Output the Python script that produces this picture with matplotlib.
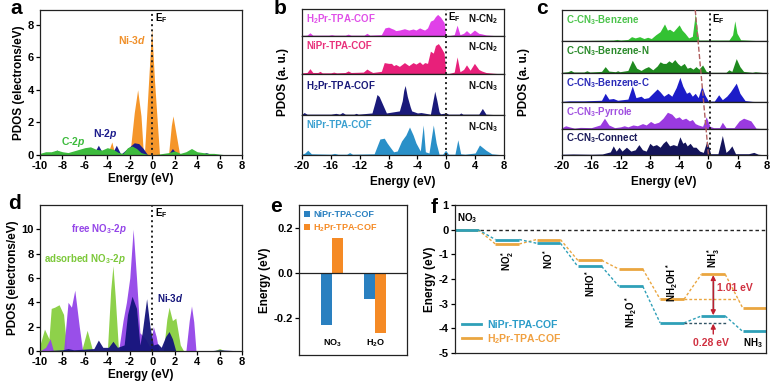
import numpy as np
import matplotlib
matplotlib.use("Agg")
import matplotlib.pyplot as plt
from matplotlib.lines import Line2D

plt.rcParams['font.family'] = ['Liberation Sans', 'DejaVu Sans']
plt.rcParams['font.weight'] = 'bold'
plt.rcParams['axes.labelweight'] = 'bold'
plt.rcParams['axes.unicode_minus'] = False
plt.rcParams['mathtext.fontset'] = 'custom'
plt.rcParams['mathtext.rm'] = 'Liberation Sans:bold'
plt.rcParams['mathtext.it'] = 'Liberation Sans:italic:bold'
plt.rcParams['mathtext.bf'] = 'Liberation Sans:bold'
plt.rcParams['mathtext.default'] = 'rm'

W, H = 779, 389

# ---- panel a: PDOS of NiPr-TPA-COF ----
a_ni3d_x = [-10, -4.0, -3.6, -3.3, -2.0, -1.6, -1.3, -1.0, -0.8, -0.7, -0.3, -0.05,
            0.2, 0.65, 1.45, 1.7, 1.85, 2.05, 2.45, 8]
a_ni3d_y = [0, 0, 0.8, 0, 0, 2.6, 4.0, 2.4, 0.2, 0, 4.8, 7.8, 4.6, 0, 0, 1.8, 2.4, 1.6,
            0, 0]
a_n2p_x = [-10, -9, -8.5, -8, -7, -5.2, -4.8, -4.4, -3.6, -3.2, -2.8, -2.2, -1.6, -1.2,
           -0.8, -0.4, 1.4, 1.8, 2.2, 4.4, 4.8, 5.2, 8]
a_n2p_y = [0.05, 0.1, 0.3, 0.1, 0.05, 0.1, 0.6, 0.1, 0.05, 0.6, 0.05, 0.4, 0.75, 0.7,
           0.4, 0, 0, 0.4, 0.05, 0.05, 0.15, 0.05, 0]
a_c2p_x = [-10, -9.5, -9, -8.5, -8, -7.5, -7, -6.5, -6, -5.5, -5, -4.5, -4, -3.5, -3,
           -2.6, -2.2, -1.8, -1.4, -1, -0.5, 0, 0.5, 1, 1.5, 2, 2.5, 3, 3.5, 4, 4.5,
           5, 5.5, 6, 6.5, 7, 8]
a_c2p_y = [0.1, 0.2, 0.2, 0.3, 0.2, 0.15, 0.25, 0.35, 0.45, 0.5, 0.35, 0.3, 0.45, 0.35,
           0.15, 0.1, 0.45, 0.55, 0.4, 0.15, 0.05, 0, 0.05, 0.1, 0.15, 0.25, 0.1, 0.2,
           0.4, 0.2, 0.15, 0.1, 0.1, 0.05, 0.02, 0, 0]

# ---- panel b: N-CN2 / N-CN3 PDOS (a.u.) ----
b_names = ['H$_2$Pr-TPA-COF', 'NiPr-TPA-COF', 'H$_2$Pr-TPA-COF', 'NiPr-TPA-COF']
b_sites = ['N-CN$_2$', 'N-CN$_2$', 'N-CN$_3$', 'N-CN$_3$']
b1_x = [-20, -19.3, -18.9, -18.5, -16.3, -15.9, -15.5, -14, -13.6, -13.2, -11.4, -11,
        -10.6, -9, -8.5, -8.0, -7.6, -7.3, -7.0, -6.5, -5.8, -5.2, -4.6, -4.2, -3.7,
        -3.3, -3.0, -2.6, -2.2, -1.8, -1.5, -1.2, -0.8, -0.3, -0.05, 0.1, 1.1, 1.5,
        1.9, 2.4, 2.8, 3.3, 3.9, 4.5, 4.9, 5.5, 6.5, 8]
b1_y = [0.02, 0.03, 0.12, 0.03, 0.03, 0.05, 0.03, 0.03, 0.07, 0.03, 0.03, 0.1, 0.03,
        0.05, 0.3, 0.33, 0.28, 0.25, 0.2, 0.22, 0.27, 0.22, 0.26, 0.22, 0.3, 0.25,
        0.22, 0.3, 0.55, 0.6, 0.72, 0.8, 0.7, 0.5, 0.0, 0.0, 0.05, 0.4, 0.05, 0.1,
        0.2, 0.08, 0.22, 0.1, 0.08, 0.04, 0.02, 0.0]
b2_x = [-20, -19.3, -18.9, -18.5, -17.8, -17.5, -17.2, -16, -15.6, -15.2, -14, -13.6,
        -13.2, -11.5, -11.0, -10.6, -10.2, -9, -8.6, -8.0, -7.6, -7.3, -7.0, -6.5,
        -5.8, -5.2, -4.6, -4.2, -3.7, -3.3, -3.0, -2.6, -2.2, -1.8, -1.5, -1.1, -0.8,
        -0.3, -0.05, 0.1, 1.1, 1.5, 1.9, 2.4, 2.8, 3.3, 3.9, 4.5, 4.9, 5.5, 6.5, 8]
b2_y = [0.03, 0.04, 0.14, 0.04, 0.04, 0.07, 0.03, 0.03, 0.05, 0.03, 0.04, 0.08, 0.04,
        0.05, 0.13, 0.08, 0.04, 0.07, 0.3, 0.28, 0.28, 0.22, 0.25, 0.2, 0.3, 0.22,
        0.3, 0.26, 0.32, 0.25, 0.3, 0.28, 0.6, 0.55, 0.75, 0.8, 0.72, 0.55, 0.0, 0.0,
        0.05, 0.45, 0.06, 0.12, 0.24, 0.1, 0.28, 0.12, 0.08, 0.04, 0.02, 0.0]
b3_x = [-20, -19.7, -19.3, -16, -15.3, -14.8, -14.4, -14, -12.8, -12.5, -12.2, -10.3,
        -9.9, -9.6, -9.3, -8.8, -8.3, -6.5, -6.1, -5.9, -5.7, -5.4, -5.0, -4.8, -4.0,
        -3.5, -2.2, -1.9, -1.6, -1.3, -1.0, -0.8, 0, 0.3, 1.8, 2.0, 2.3, 4.5, 5.0,
        5.5, 8]
b3_y = [0.02, 0.06, 0.02, 0.02, 0.04, 0.02, 0.06, 0.02, 0.02, 0.04, 0.02, 0.05, 0.3,
        0.5, 0.45, 0.25, 0.05, 0.1, 0.35, 0.6, 0.72, 0.45, 0.2, 0.1, 0.05, 0.06, 0.02,
        0.3, 0.58, 0.35, 0.08, 0.03, 0.05, 0.02, 0.02, 0.05, 0.02, 0.02, 0.16, 0.02, 0]
b4_x = [-20, -19.6, -19.2, -18.7, -16, -15.5, -15, -13.8, -13.4, -13, -10, -9.2, -8.6,
        -8.2, -7.8, -7.3, -6.8, -6.2, -5.6, -5.1, -4.6, -4.2, -3.6, -3.2, -2.9, -2.4,
        -1.8, -1.4, -1.0, -0.5, -0.1, 0.3, 1.2, 1.6, 2.0, 2.6, 4.0, 4.6, 5.5, 6.3, 8]
b4_y = [0.02, 0.05, 0.12, 0.03, 0.02, 0.04, 0.02, 0.02, 0.06, 0.02, 0.03, 0.4, 0.42,
        0.3, 0.2, 0.08, 0.1, 0.35, 0.5, 0.7, 0.5, 0.3, 0.1, 0.75, 0.08, 0.05, 0.75,
        0.3, 0.02, 0.02, 0.12, 0.02, 0.02, 0.38, 0.03, 0.02, 0.05, 0.25, 0.12, 0.03, 0]

# ---- panel c: C-CN3 PDOS (a.u.) ----
c_names = ['C-CN$_3$-Benzene', 'C-CN$_3$-Benzene-N', 'C-CN$_3$-Benzene-C',
           'C-CN$_3$-Pyrrole', 'C-CN$_3$-Connect']
c1_x = [-20, -16, -13, -12.5, -12, -11, -10.5, -10, -9.4, -8.8, -8.3, -7.8, -7.2, -6.6,
        -6.0, -5.6, -5.3, -4.8, -4.0, -3.6, -3.2, -2.7, -2.2, -1.8, -1.5, -1.3, 0,
        2.8, 3.3, 3.6, 3.9, 4.4, 6, 8]
c1_y = [0, 0.02, 0.03, 0.05, 0.03, 0.05, 0.14, 0.1, 0.14, 0.08, 0.12, 0.08, 0.2, 0.3,
        0.55, 0.35, 0.38, 0.3, 0.52, 0.35, 0.25, 0.1, 0.15, 0.88, 0.3, 0.03, 0.03,
        0.03, 0.2, 0.65, 0.25, 0.04, 0.02, 0]
c2_x = [-20, -19.2, -18.8, -18.4, -17, -16.6, -16.2, -14.6, -14.1, -13.6, -12.7, -12.4,
        -12.1, -11, -10.4, -9.8, -9.2, -8.7, -8.2, -7.6, -7.0, -6.6, -6.2, -5.8, -5.4,
        -5.0, -4.6, -4.2, -3.8, -3.3, -2.9, -2.5, -2.1, -1.7, -1.3, -0.8, -0.3, 0.2,
        2.4, 2.8, 3.2, 3.8, 4.3, 4.8, 6.0, 6.4, 8]
c2_y = [0.02, 0.04, 0.08, 0.03, 0.03, 0.07, 0.03, 0.05, 0.2, 0.06, 0.04, 0.07, 0.04,
        0.08, 0.4, 0.15, 0.08, 0.15, 0.2, 0.1, 0.22, 0.35, 0.3, 0.3, 0.38, 0.32, 0.42,
        0.3, 0.22, 0.3, 0.15, 0.18, 0.12, 0.2, 0.12, 0.25, 0.05, 0.02, 0.02, 0.1,
        0.05, 0.45, 0.2, 0.05, 0.02, 0.04, 0]
c3_x = [-20, -19, -17, -14.6, -14.1, -13.6, -13, -12.4, -11, -10.4, -9.9, -9.2, -8.8,
        -8.2, -7.6, -7.0, -6.6, -6.1, -5.5, -5.0, -4.4, -3.9, -3.5, -3.0, -2.6, -2.2,
        -1.8, -1.4, -0.9, -0.5, 0, 0.8, 1.4, 1.9, 2.5, 3.0, 3.8, 4.3, 5.0, 6, 8]
c3_y = [0.02, 0.04, 0.04, 0.06, 0.3, 0.1, 0.12, 0.06, 0.1, 0.55, 0.15, 0.2, 0.12, 0.15,
        0.3, 0.45, 0.35, 0.2, 0.3, 0.2, 0.5, 0.85, 0.55, 0.3, 0.35, 0.2, 0.3, 0.15,
        0.55, 0.25, 0.03, 0.03, 0.25, 0.08, 0.2, 0.35, 0.65, 0.3, 0.05, 0.02, 0]
c4_x = [-20, -19.5, -19, -18.3, -17.5, -16, -14.8, -14.2, -13.6, -12.8, -12, -11.5, -11,
        -10.3, -9.7, -9.0, -8.5, -7.9, -7.4, -6.8, -6.2, -5.6, -5.0, -4.5, -4.0, -3.6,
        -3.1, -2.6, -2.2, -1.8, -1.4, -0.8, -0.3, 0.2, 0.7, 1.5, 1.9, 2.4, 3.5, 4.2,
        4.8, 5.3, 5.8, 6.5, 8]
c4_y = [0.05, 0.12, 0.08, 0.03, 0.06, 0.05, 0.15, 0.4, 0.15, 0.05, 0.08, 0.12, 0.08,
        0.15, 0.12, 0.2, 0.15, 0.28, 0.2, 0.25, 0.4, 0.62, 0.55, 0.4, 0.45, 0.35, 0.4,
        0.3, 0.35, 0.2, 0.15, 0.1, 0.45, 0.1, 0.05, 0.05, 0.25, 0.05, 0.05, 0.3, 0.4,
        0.35, 0.3, 0.03, 0]
c5_x = [-20, -18.5, -16, -14.5, -13.4, -13, -12.6, -12.2, -11.8, -11.2, -10.6, -10,
        -9.5, -9.0, -8.5, -8.0, -7.6, -7.1, -6.6, -6.2, -5.8, -5.3, -4.8, -4.3, -3.9,
        -3.5, -3.2, -2.9, -2.5, -2.1, -1.7, -1.2, -0.7, -0.2, 0.3, 1.3, 1.9, 2.4, 2.8,
        3.2, 3.7, 4.5, 5.5, 6.2, 6.8, 8]
c5_y = [0.03, 0.04, 0.03, 0.04, 0.12, 0.35, 0.15, 0.3, 0.15, 0.3, 0.15, 0.2, 0.4, 0.2,
        0.15, 0.45, 0.35, 0.4, 0.3, 0.45, 0.55, 0.35, 0.4, 0.35, 0.7, 0.45, 0.5, 0.35,
        0.45, 0.3, 0.3, 0.15, 0.1, 0.55, 0.05, 0.05, 0.75, 0.1, 0.2, 0.35, 0.05, 0.05,
        0.05, 0.1, 0.03, 0]

# ---- panel d: NO3 adsorption PDOS ----
d_ads_x = [-10, -9.6, -9.2, -9.0, -8.7, -8.3, -7.9, -7.6, -6.3, -5.8, -5.3, -4.0, -3.7,
           -3.5, -3.3, -3.0, -2.6, -2.2, -1.6, 1.0, 1.3, 1.5, 1.8, 2.1, 2.5, 2.8, 5.5,
           6.0, 6.5, 8]
d_ads_y = [0.5, 1.8, 1.0, 3.5, 3.6, 3.8, 3.0, 0, 0, 1.7, 0, 0, 5.0, 7.0, 4.5, 0, 0.3,
           0.5, 0, 0, 2.6, 3.6, 2.5, 2.7, 0.5, 0, 0, 0.2, 0, 0]
d_free_x = [-10, -9.5, -9.1, -8.8, -7.9, -7.5, -7.2, -6.9, -6.5, -6.2, -3.0, -2.6, -2.3,
            -2.0, -1.7, -1.4, -1.1, -0.6, -0.2, 0.1, 0.35, 0.6, 3.0, 3.3, 3.5, 3.7,
            3.9, 8]
d_free_y = [0, 0.3, 1.0, 0, 0, 4.0, 3.6, 5.0, 2.0, 0, 0, 2.5, 4.0, 6.0, 10.0, 6.0, 1.5,
            1.0, 0.3, 2.0, 1.2, 0, 0, 2.5, 3.7, 2.4, 0, 0]
d_ni_x = [-10, -8, -7.5, -7, -5.2, -4.8, -4.4, -3.9, -3.5, -3.1, -2.5, -2.2, -1.8, -1.4,
          -1.1, -0.9, -0.5, -0.2, 0.1, 0.5, 0.8, 1.2, 1.5, 1.8, 2.1, 5, 6, 8]
d_ni_y = [0, 0.1, 0.2, 0.1, 0.2, 0.9, 0.3, 0.3, 0.8, 0.3, 0.5, 3.0, 4.5, 3.5, 0.5, 1.5,
          4.3, 2.0, 0.5, 0.6, 0.3, 1.2, 1.6, 1.0, 0, 0, 0.1, 0]

# ---- panel e: adsorption energy ----
e_species = ['NO$_3$', 'H$_2$O']
e_ni = [-0.23, -0.115]
e_h2 = [0.155, -0.268]

# ---- panel f: free energy diagram ----
f_steps = ['NO$_3$', 'NO$_2^*$', 'NO$^*$', 'NHO$^*$', 'NH$_2$O$^*$', 'NH$_2$OH$^*$',
           'NH$_3^*$', 'NH$_3$']
f_ni = [0, -0.40, -0.55, -1.49, -2.30, -3.78, -3.50, -4.12]
f_h2 = [0, -0.58, -0.40, -1.24, -1.60, -2.82, -1.81, -3.16]


fig = plt.figure(figsize=(W / 100, H / 100), dpi=100)


def px_axes(l, t, r, b):
    return fig.add_axes([l / W, 1 - b / H, (r - l) / W, (b - t) / H])


def style(ax, lw=0.9):
    for s in ax.spines.values():
        s.set_linewidth(lw)
        s.set_color('#222222')
    ax.tick_params(direction='out', length=3, width=0.9, labelsize=8, pad=1.5)


LAB = 8.5

# panel a
ax = px_axes(40, 10, 242, 155)
ax.fill_between(a_ni3d_x, a_ni3d_y, color='#f5962a', lw=0)
ax.fill_between(a_n2p_x, a_n2p_y, color='#1c1c8c', lw=0)
ax.fill_between(a_c2p_x, a_c2p_y, color='#3dbb3d', lw=0)
ax.axvline(0, color='#222222', ls=':', lw=1.4)
ax.set_xlim(-10, 8)
ax.set_ylim(0, 8.9)
ax.set_xticks(range(-10, 9, 2))
ax.set_yticks(range(0, 9, 2))
style(ax)
ax.set_xlabel('Energy (eV)', fontsize=LAB, labelpad=1)
ax.set_ylabel('PDOS (electrons/eV)', fontsize=LAB, labelpad=2)
ax.text(0.25, 8.2, 'E$_F$', fontsize=7)
ax.text(-0.5, 6.8, r'Ni-3$\mathit{d}$', color='#f0902a', fontsize=7.5, ha='right')
ax.text(-4.2, 1.1, r'N-2$\mathit{p}$', color='#1c1c8c', fontsize=7.5, ha='center')
ax.text(-7.0, 0.6, r'C-2$\mathit{p}$', color='#3dbb3d', fontsize=7.5, ha='center')
fig.text(10 / W, 1 - 14 / H, 'a', fontsize=15, fontweight='bold')

# panel b
b_bounds = [9, 36, 74, 115, 155]
b_data = [(b1_x, b1_y), (b2_x, b2_y), (b3_x, b3_y), (b4_x, b4_y)]
b_colors = ['#e040e8', '#e8207a', '#1a1a7a', '#2a90c8']
b_text = ['#e050e8', '#e8307a', '#1a1a7a', '#3aa0d0']
for i in range(4):
    ax = px_axes(302, b_bounds[i], 504, b_bounds[i + 1])
    xs, ys = b_data[i]
    ax.fill_between(xs, ys, color=b_colors[i], lw=0)
    ax.axvline(0, color='#222222', ls=':', lw=1.4)
    ax.set_xlim(-20, 8)
    ax.set_ylim(0, 1)
    ax.set_yticks([])
    style(ax)
    if i < 3:
        ax.set_xticks([])
    else:
        ax.set_xticks(range(-20, 9, 4))
    ax.text(0.02, 0.88, b_names[i], transform=ax.transAxes, color=b_text[i],
            fontsize=7, va='top')
    ax.text(0.97, 0.88, b_sites[i], transform=ax.transAxes, color='#111111',
            fontsize=7, va='top', ha='right')
    if i == 0:
        ax.text(0.3, 0.95, 'E$_F$', fontsize=7, va='top')
fig.text(403 / W, 1 - 182 / H, 'Energy (eV)', fontsize=LAB, ha='center', va='center')
fig.text(283 / W, 1 - 82 / H, 'PDOS (a. u.)', fontsize=LAB, ha='center', va='center',
         rotation=90)
fig.text(274 / W, 1 - 14 / H, 'b', fontsize=15, fontweight='bold')

# panel c
c_bounds = [10, 41, 73, 102, 129, 155]
c_data = [(c1_x, c1_y), (c2_x, c2_y), (c3_x, c3_y), (c4_x, c4_y), (c5_x, c5_y)]
c_colors = ['#33c233', '#1f8a1f', '#1c1cc8', '#9a3ae0', '#14145a']
c_text = ['#4cc44c', '#2a8a2a', '#2a2ab8', '#a050e0', '#1a1a5a']
for i in range(5):
    ax = px_axes(562, c_bounds[i], 767, c_bounds[i + 1])
    xs, ys = c_data[i]
    ax.fill_between(xs, ys, color=c_colors[i], lw=0)
    ax.axvline(0.15, color='#222222', ls=':', lw=1.4)
    ax.set_xlim(-20, 8)
    ax.set_ylim(0, 1)
    ax.set_yticks([])
    style(ax)
    if i < 4:
        ax.set_xticks([])
    else:
        ax.set_xticks(range(-20, 9, 4))
    ax.text(0.02, 0.9, c_names[i], transform=ax.transAxes, color=c_text[i],
            fontsize=7, va='top')
    if i == 0:
        ax.text(0.45, 0.92, 'E$_F$', fontsize=7, va='top')
# slanted guide line through the near-Fermi peaks
ovl = px_axes(562, 10, 767, 155)
ovl.patch.set_visible(False)
ovl.axis('off')
ovl.set_xlim(-20, 8)
ovl.set_ylim(0, 1)
ovl.plot([-1.8, 0.0], [1, 0], color='#b06060', ls='--', lw=1.0)
fig.text(664 / W, 1 - 182 / H, 'Energy (eV)', fontsize=LAB, ha='center', va='center')
fig.text(524 / W, 1 - 82 / H, 'PDOS (a. u.)', fontsize=LAB, ha='center', va='center',
         rotation=90)
fig.text(536 / W, 1 - 14 / H, 'c', fontsize=15, fontweight='bold')

# panel d
ax = px_axes(40, 205, 242, 351)
ax.fill_between(d_ads_x, d_ads_y, color='#8ed14a', lw=0)
ax.fill_between(d_free_x, d_free_y, color='#9445e8', lw=0, alpha=0.95)
ax.fill_between(d_ni_x, d_ni_y, color='#14147a', lw=0, alpha=0.95)
ax.axvline(0, color='#222222', ls=':', lw=1.4)
ax.set_xlim(-10, 8)
ax.set_ylim(0, 12)
ax.set_xticks(range(-10, 9, 2))
ax.set_yticks(range(0, 11, 2))
style(ax)
ax.set_xlabel('Energy (eV)', fontsize=LAB, labelpad=1)
ax.set_ylabel('PDOS (electrons/eV)', fontsize=LAB, labelpad=2)
ax.text(0.25, 11.1, 'E$_F$', fontsize=7)
ax.text(-2.3, 9.8, r'free NO$_3$-2$\mathit{p}$', color='#9445e8', fontsize=7,
        ha='right')
ax.text(-9.6, 7.3, r'adsorbed NO$_3$-2$\mathit{p}$', color='#7cc83a', fontsize=7,
        ha='left')
ax.text(0.4, 4.0, r'Ni-3$\mathit{d}$', color='#14147a', fontsize=7, ha='left')
fig.text(8 / W, 1 - 209 / H, 'd', fontsize=15, fontweight='bold')

# panel e
ax = px_axes(299, 205, 407, 355)
xpos = np.arange(len(e_species))
bw = 0.25
ax.bar(xpos - bw / 2, e_ni, bw, color='#2a80c0', label='NiPr-TPA-COF')
ax.bar(xpos + bw / 2, e_h2, bw, color='#f58a25', label='H$_2$Pr-TPA-COF')
ax.axhline(0, color='#222222', lw=0.9)
ax.set_xlim(-0.77, 1.74)
ax.set_ylim(-0.365, 0.30)
ax.set_yticks([-0.2, 0.0, 0.2])
ax.set_yticklabels(['-0.2', '0.0', '0.2'])
ax.set_xticks([])
style(ax)
for xi, name in zip(xpos, e_species):
    ax.text(xi, -0.315, name, ha='center', va='center', fontsize=6.5)
ax.set_ylabel('Energy (eV)', fontsize=LAB, labelpad=2)
leg = ax.legend(loc='upper left', fontsize=6.5, frameon=False, handlelength=0.6,
                handleheight=0.6, handletextpad=0.4, borderaxespad=0.2, labelspacing=0.3)
for t, c in zip(leg.get_texts(), ['#2a80c0', '#f58a25']):
    t.set_color(c)
fig.text(270 / W, 1 - 212 / H, 'e', fontsize=15, fontweight='bold')

# panel f
ax = px_axes(455, 205, 766, 353)
hw = 0.29
ni_c = '#2fa0b8'
h2_c = '#eaa640'
ax.axhline(0, color='#222222', ls='--', lw=1.0, dashes=(2.5, 2))
for vals, col in [(f_h2, h2_c), (f_ni, ni_c)]:
    for i, v in enumerate(vals):
        ax.plot([i - hw, i + hw], [v, v], color=col, lw=2.0, solid_capstyle='butt')
        if i < len(vals) - 1:
            ax.plot([i + hw, i + 1 - hw], [v, vals[i + 1]], color=col, lw=1.0,
                    ls='--', dashes=(2, 1.5))
# reference lines for barrier heights
ax.plot([5 + hw, 6.6], [f_h2[5], f_h2[5]], color=h2_c, lw=1.0, ls='--', dashes=(2, 1.5))
ax.plot([5 + hw, 6.3], [f_ni[5], f_ni[5]], color='#335566', lw=1.0, ls='--',
        dashes=(2, 1.5))
ax.annotate('', xy=(6, f_h2[6] - 0.03), xytext=(6, f_ni[6] + 0.03),
            arrowprops=dict(arrowstyle='<|-|>', color='#c02030', lw=1.0,
                            mutation_scale=7, shrinkA=0, shrinkB=0))
ax.plot([6, 6], [f_h2[6] - 0.3, f_ni[6] + 0.3], color='#222222', lw=1.0)
ax.annotate('', xy=(6, f_ni[5] - 0.03), xytext=(6, f_ni[5] - 0.45),
            arrowprops=dict(arrowstyle='-|>', color='#c02030', lw=1.0,
                            mutation_scale=7, shrinkA=0, shrinkB=0))
ax.text(6.1, -2.35, '%.2f eV' % (f_h2[6] - f_h2[5]), color='#d03040', fontsize=7.5,
        va='center')
ax.text(5.95, -4.58, '%.2f eV' % (f_ni[6] - f_ni[5]), color='#d03040', fontsize=7.5,
        va='center', ha='center')
# step labels
lab_pos = [(0.05, 0.45), (1, -1.24), (2, -1.17), (3, -2.17), (4, -3.35), (5, -2.13),
           (6, -1.13), (6.95, -4.6)]
for i, (xl, yl) in enumerate(lab_pos):
    if i == 0:
        ax.text(-0.22, yl, f_steps[i], fontsize=7, va='center', ha='left')
    elif i == 7:
        ax.text(xl, yl, f_steps[i], fontsize=7, va='center', ha='center')
    else:
        ax.text(xl, yl, f_steps[i], fontsize=7, va='center', ha='center', rotation=90)
ax.set_xlim(-0.27, 7.28)
ax.set_ylim(-5, 1)
ax.set_yticks(range(-5, 2))
ax.set_xticks([])
style(ax)
ax.set_ylabel('Energy (eV)', fontsize=LAB, labelpad=2)
handles = [Line2D([], [], color=ni_c, lw=2), Line2D([], [], color=h2_c, lw=2)]
leg = ax.legend(handles, ['NiPr-TPA-COF', 'H$_2$Pr-TPA-COF'], loc='lower left',
                fontsize=7.5, frameon=False, handlelength=1.8, handletextpad=0.6,
                borderaxespad=0.3, labelspacing=0.2)
for t, c in zip(leg.get_texts(), ['#2a9cc8', '#f0a040']):
    t.set_color(c)
fig.text(431 / W, 1 - 213 / H, 'f', fontsize=15, fontweight='bold')

fig.savefig('out.png', dpi=100)
